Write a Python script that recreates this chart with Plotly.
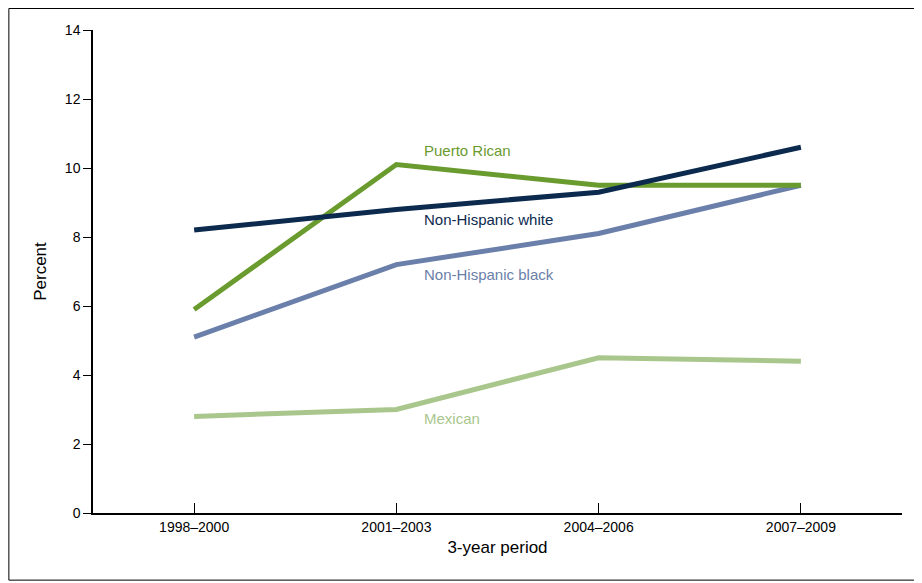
import plotly.graph_objects as go

periods = ["1998–2000", "2001–2003", "2004–2006", "2007–2009"]
puerto_rican = [5.9, 10.1, 9.5, 9.5]
nh_white = [8.2, 8.8, 9.3, 10.6]
nh_black = [5.1, 7.2, 8.1, 9.5]
mexican = [2.8, 3.0, 4.5, 4.4]

series = [
    ("Mexican", mexican, "#a9c78c", 2.75),
    ("Non-Hispanic black", nh_black, "#6a7fa9", 6.9),
    ("Puerto Rican", puerto_rican, "#6a9b2f", 10.5),
    ("Non-Hispanic white", nh_white, "#0c2a4e", 8.5),
]

fig = go.Figure()
xs = list(range(len(periods)))
for name, vals, color, ly in series:
    fig.add_trace(go.Scatter(x=xs, y=vals, mode="lines", name=name,
                             line=dict(color=color, width=5), showlegend=False))
    fig.add_annotation(x=1.125, y=ly, text=name, showarrow=False, xanchor="left",
                       font=dict(color=color, size=15, family="Liberation Sans"))

fig.update_layout(
    width=922, height=583, paper_bgcolor="white", plot_bgcolor="white",
    margin=dict(l=85, r=28, t=22, b=78),
    font=dict(family="Liberation Sans", size=14, color="black"),
    shapes=[dict(type="rect", xref="paper", yref="paper", x0=-0.104, x1=1.0198, y0=-0.139, y1=1.0445,
                 line=dict(color="black", width=1))],
)
fig.update_xaxes(range=[-0.5, 3.5], tickvals=xs, ticktext=periods, showline=True,
                 linecolor="black", linewidth=1.5, ticks="inside", ticklen=10, tickcolor="black",
                 showgrid=False, zeroline=False,
                 title=dict(text="3-year period", standoff=8))
fig.update_yaxes(range=[0, 14], dtick=2, showline=True, linecolor="black", linewidth=1.5,
                 ticks="outside", ticklen=8, tickcolor="black", showgrid=False, zeroline=False,
                 title=dict(text="Percent", standoff=14))
fig.write_html("out.html")
